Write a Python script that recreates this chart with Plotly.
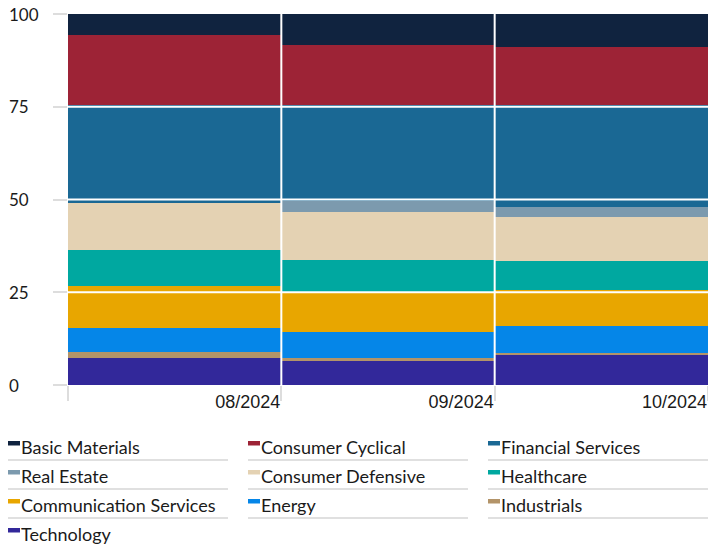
import plotly.graph_objects as go

months = ["08/2024", "09/2024", "10/2024"]

# stacking order bottom -> top
sectors = ["Technology", "Industrials", "Energy", "Communication Services",
           "Healthcare", "Consumer Defensive", "Real Estate",
           "Financial Services", "Consumer Cyclical", "Basic Materials"]

technology = [7.3, 6.7, 8.1]
industrials = [1.6, 0.5, 0.4]
energy = [6.55, 7.1, 7.4]
communication = [11.2, 10.7, 9.6]
healthcare = [9.7, 8.6, 7.9]
defensive = [12.7, 13.0, 11.8]
real_estate = [0.0, 2.9, 2.8]
financial = [26.55, 26.1, 27.4]
cyclical = [18.7, 16.0, 15.8]
basic = [5.7, 8.4, 8.8]

values = [technology, industrials, energy, communication, healthcare,
          defensive, real_estate, financial, cyclical, basic]

colors = {
    "Basic Materials": "#10233f",
    "Consumer Cyclical": "#9d2336",
    "Financial Services": "#1a6894",
    "Real Estate": "#7c9aae",
    "Consumer Defensive": "#e4d2b3",
    "Healthcare": "#00a8a0",
    "Communication Services": "#e8a600",
    "Energy": "#0586e8",
    "Industrials": "#b39469",
    "Technology": "#32289a",
}

y_ticks = [0, 25, 50, 75, 100]

x_pos = [0.5, 1.5, 2.5]

fig = go.Figure()
for name, vals in zip(sectors, values):
    fig.add_trace(go.Bar(
        x=x_pos, y=vals, name=name, width=1.0,
        marker=dict(color=colors[name], line=dict(width=0)),
        showlegend=False,
        hovertemplate="%{y}<extra>" + name + "</extra>",
    ))

W, H = 708, 546
L, R, T, B = 68, 0, 14, 161
pw = W - L - R
ph = H - T - B

def px(x):
    return (x - L) / pw

def py(y):
    return (H - B - y) / ph

shapes = []
annotations = []

# white separators over bars
for v in [25, 50, 75]:
    shapes.append(dict(type="line", xref="x", yref="y", x0=0, x1=3, y0=v, y1=v,
                       line=dict(color="white", width=2), layer="above"))
for v in [1, 2]:
    shapes.append(dict(type="line", xref="x", yref="y", x0=v, x1=v, y0=0, y1=100,
                       line=dict(color="white", width=2), layer="above"))

# y tick labels, left aligned
for v in y_ticks:
    annotations.append(dict(xref="paper", yref="y", x=px(7), y=v, text=str(v),
                            xanchor="left", yanchor="middle", showarrow=False,
                            font=dict(family="Lato", size=17, color="#1a1a1a")))

# custom legend
legend_order = list(reversed(sectors))
for i, name in enumerate(legend_order):
    row, col = divmod(i, 3)
    x0 = 8 + 240 * col
    yb = 29 * row
    shapes.append(dict(type="rect", xref="paper", yref="paper",
                       x0=px(x0), x1=px(x0 + 12), y0=py(441 + yb), y1=py(445.5 + yb),
                       fillcolor=colors[name], line=dict(width=0)))
    annotations.append(dict(xref="paper", yref="paper", x=px(x0 + 10.5), y=py(447 + yb),
                            text=name, xanchor="left", yanchor="middle", showarrow=False,
                            font=dict(family="Lato", size=18, color="#1a1a1a")))
    if 460 + yb < H:
        shapes.append(dict(type="line", xref="paper", yref="paper",
                           x0=px(x0), x1=px(x0 + 220), y0=py(460 + yb), y1=py(460 + yb),
                           line=dict(color="#e0e0e0", width=2)))

fig.update_layout(
    width=W, height=H,
    margin=dict(l=L, r=R, t=T, b=B),
    barmode="stack", bargap=0,
    plot_bgcolor="white", paper_bgcolor="white",
    showlegend=False,
    shapes=shapes, annotations=annotations,
    xaxis=dict(range=[0, 3], tickvals=[0, 1, 2, 3],
               ticktext=[""] + months,
               ticklabelposition="outside left",
               ticks="outside", ticklen=15, tickwidth=2, tickcolor="#dddddd",
               showgrid=True, gridcolor="#e3e3e3", gridwidth=2,
               zeroline=False, showline=False,
               tickfont=dict(family="Liberation Sans", size=18, color="#1a1a1a")),
    yaxis=dict(range=[0, 100], tickvals=y_ticks, showticklabels=False,
               ticks="outside", ticklen=14, tickwidth=2, tickcolor="#dddddd",
               showgrid=True, gridcolor="#e3e3e3", gridwidth=2,
               zeroline=False, showline=False),
)

fig.write_html("out.html",
               config={"displayModeBar": False},
               post_script="document.body.style.margin='0px';document.body.style.overflow='hidden';")
